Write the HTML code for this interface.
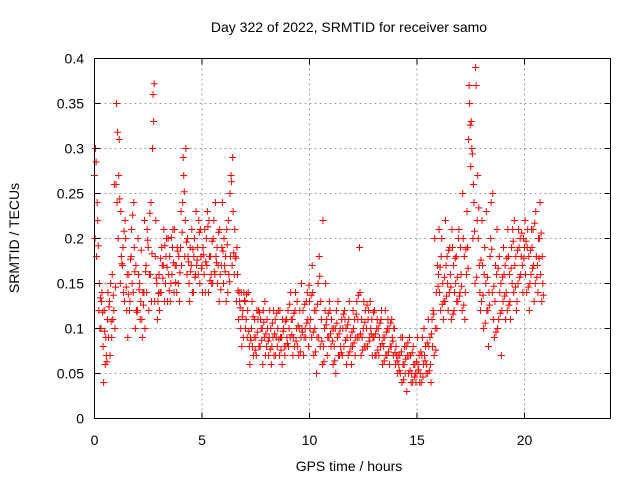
<!DOCTYPE html>
<html><head><meta charset="utf-8"><style>
body{margin:0;background:#fff;}
svg{display:block;font-family:"Liberation Sans",sans-serif;}
</style></head><body>
<svg id="chart" width="640" height="480" viewBox="0 0 640 480">
<rect width="640" height="480" fill="#fff"/>
<g id="grid"></g>
<g id="marks"></g>
<rect x="94.5" y="58.5" width="516" height="360" fill="none" stroke="#000" stroke-width="1"/>
<g id="ticks"></g>
<text x="349" y="32" font-size="14" text-anchor="middle">Day 322 of 2022, SRMTID for receiver samo</text>
<text x="349" y="471" font-size="14" text-anchor="middle">GPS time / hours</text>
<text transform="translate(19,238) rotate(-90)" font-size="14" text-anchor="middle">SRMTID / TECUs</text>
</svg>
<script>
const xTicks=[0,5,10,15,20];
const yTicks=[0,0.05,0.1,0.15,0.2,0.25,0.3,0.35,0.4];
const yTickLabels=["0","0.05","0.1","0.15","0.2","0.25","0.3","0.35","0.4"];
const timeStart=0, timeStep=0.1;
const seriesA=[.27,.18,.12,.10,.08,.06,.11,.13,.09,.12,
.26,.20,.15,.17,.13,.12,.16,.18,.14,.10,
.12,.15,.11,.14,.17,.19,.16,.30,.13,.15,
.16,.14,.17,.15,.13,.18,.16,.14,.17,.15,
.19,.24,.18,.16,.15,.17,.14,.16,.19,.15,
.17,.16,.20,.14,.18,.15,.16,.19,.13,.17,
.15,.18,.14,.25,.17,.16,.13,.11,.10,.12,
.13,.09,.08,.10,.07,.09,.11,.08,.10,.09,
.08,.07,.10,.09,.11,.08,.07,.09,.10,.08,
.12,.09,.11,.08,.10,.07,.09,.12,.10,.14,
.13,.09,.07,.12,.15,.08,.06,.10,.11,.09,
.08,.06,.10,.09,.07,.11,.08,.10,.07,.09,
.08,.11,.13,.09,.07,.10,.12,.08,.09,.11,
.09,.07,.10,.08,.06,.09,.07,.10,.08,.07,
.06,.05,.07,.04,.06,.08,.05,.07,.04,.06,
.05,.07,.04,.06,.08,.05,.09,.11,.07,.14,
.16,.12,.15,.13,.18,.14,.11,.17,.15,.13,
.14,.12,.18,.16,.31,.28,.20,.15,.22,.17,
.13,.10,.15,.12,.18,.14,.09,.16,.11,.15,
.13,.17,.12,.16,.19,.14,.18,.15,.20,.17,
.19,.14,.18,.16,.21,.15,.17,.20,.13];
const seriesB=[.20,.24,.15,.13,.04,.09,.14,.07,.16,.26,
.35,.27,.23,.19,.22,.16,.12,.21,.24,.17,
.20,.11,.09,.22,.14,.12,.24,.36,.18,.11,
.12,.19,.21,.18,.20,.13,.19,.21,.14,.18,
.23,.29,.22,.20,.13,.21,.18,.23,.16,.21,
.14,.21,.17,.22,.16,.20,.24,.15,.21,.19,
.20,.13,.22,.18,.29,.21,.19,.14,.14,.09,
.10,.12,.06,.13,.09,.07,.12,.11,.06,.13,
.11,.09,.06,.12,.07,.10,.12,.06,.08,.11,
.08,.14,.07,.12,.13,.10,.15,.07,.09,.11,
.10,.17,.12,.05,.09,.13,.22,.12,.07,.13,
.11,.10,.05,.13,.10,.07,.12,.06,.11,.08,
.12,.07,.09,.19,.11,.13,.08,.11,.13,.07,
.12,.10,.07,.11,.09,.12,.10,.06,.11,.10,
.08,.07,.05,.09,.08,.03,.07,.04,.08,.05,
.09,.04,.07,.10,.05,.11,.06,.08,.20,.10,
.21,.18,.11,.22,.15,.19,.21,.12,.18,.20,
.19,.25,.11,.23,.37,.33,.26,.39,.27,.14,
.22,.16,.23,.08,.20,.25,.13,.21,.18,.07,
.19,.11,.21,.13,.15,.22,.12,.21,.16,.14,
.22,.19,.12,.21,.17,.23,.14,.24,.18];
const seriesC=[.30,.22,.10,.14,.12,.07,.09,.15,.11,.10,
.24,.31,.18,.14,.20,.09,.13,.15,.19,.12,
.16,.13,.14,.10,.21,.16,.13,.33,.22,.13,
.14,.17,.13,.20,.16,.15,.21,.17,.19,.13,
.17,.27,.30,.18,.19,.14,.20,.17,.22,.18,
.19,.14,.23,.18,.15,.22,.18,.17,.16,.24,
.17,.21,.16,.27,.23,.18,.16,.13,.08,.14,
.11,.14,.09,.08,.11,.12,.08,.10,.12,.07,
.10,.12,.08,.07,.09,.12,.09,.11,.07,.09,
.10,.11,.09,.14,.08,.12,.10,.09,.13,.08,
.11,.14,.10,.09,.18,.11,.08,.15,.09,.12,
.10,.08,.12,.07,.08,.10,.11,.09,.13,.06,
.10,.09,.11,.14,.09,.08,.10,.12,.10,.09,
.07,.11,.09,.12,.08,.07,.11,.08,.09,.10,
.07,.06,.09,.06,.05,.07,.09,.05,.06,.04,
.06,.05,.09,.07,.06,.08,.04,.12,.10,.17,
.14,.20,.13,.17,.12,.16,.19,.14,.13,.21,
.16,.20,.14,.19,.35,.30,.24,.37,.20,.12,
.17,.19,.12,.14,.24,.11,.17,.10,.14,.12,
.16,.14,.18,.11,.21,.17,.13,.19,.18,.20,
.16,.21,.15,.19,.13,.18,.20,.16,.15];
const seriesD=[.285,.192,.134,.118,.097,.063,.124,.108,.137,.146,
.318,.244,.172,.208,.146,.138,.177,.226,.163,.118,
.143,.187,.126,.163,.198,.228,.183,.372,.156,.139,
.178,.156,.192,.168,.142,.201,.173,.151,.186,.162,
.207,.252,.196,.174,.163,.188,.157,.176,.207,.167,
.182,.174,.213,.153,.197,.163,.173,.207,.143,.186,
.163,.193,.152,.263,.184,.178,.142,.123,.113,.131,
.138,.097,.087,.113,.076,.096,.118,.087,.107,.094,
.086,.077,.106,.094,.117,.088,.076,.097,.108,.083,
.127,.093,.117,.086,.103,.074,.096,.127,.106,.148,
.137,.096,.074,.127,.158,.086,.063,.104,.117,.094,
.086,.064,.106,.094,.073,.116,.087,.104,.074,.096,
.084,.116,.137,.094,.076,.107,.126,.086,.094,.118,
.094,.076,.106,.083,.064,.096,.074,.106,.086,.073,
.064,.053,.074,.043,.066,.084,.053,.073,.046,.063,
.054,.074,.046,.064,.084,.053,.094,.116,.076,.147,
.168,.127,.157,.136,.187,.146,.116,.178,.157,.136,
.147,.126,.188,.167,.326,.294,.208,.157,.234,.176,
.137,.106,.157,.126,.188,.147,.096,.167,.117,.157,
.136,.178,.126,.167,.197,.146,.187,.157,.206,.178,
.197,.146,.187,.167,.217,.157,.178,.206,.137];
const NS="http://www.w3.org/2000/svg";
const X0=94.5,X1=610.5,Y0=418.5,Y1=58.5;
function xs(h){return X0+(h-0)/(24-0)*(X1-X0);}
function ys(v){return Y0-(v-0)/(0.4-0)*(Y0-Y1);}
function mk(tag,at,parent){const e=document.createElementNS(NS,tag);for(const k in at)e.setAttribute(k,at[k]);parent.appendChild(e);return e;}
const grid=document.getElementById('grid'),ticks=document.getElementById('ticks'),marks=document.getElementById('marks');
xTicks.forEach(t=>{const x=xs(t);
 if(t>0){const g=mk('line',{x1:x,x2:x,y1:Y1,y2:Y0,stroke:'#a0a0a0','stroke-dasharray':'2,3'},grid);
 
 }
 mk('line',{x1:x,x2:x,y1:Y0,y2:Y0-6,stroke:'#000'},ticks);mk('line',{x1:x,x2:x,y1:Y1,y2:Y1+6,stroke:'#000'},ticks);
 const l=mk('text',{x:x,y:445,'font-size':14,'text-anchor':'middle'},ticks);l.textContent=t;
 
 });
yTicks.forEach((t,i)=>{const y=ys(t);
 if(t>0&&t<0.4){const g=mk('line',{x1:X0,x2:X1,y1:y,y2:y,stroke:'#a0a0a0','stroke-dasharray':'2,3'},grid);
 
 }
 mk('line',{x1:X0,x2:X0+6,y1:y,y2:y,stroke:'#000'},ticks);mk('line',{x1:X1,x2:X1-6,y1:y,y2:y,stroke:'#000'},ticks);
 const l=mk('text',{x:84,y:y+5,'font-size':14,'text-anchor':'end'},ticks);l.textContent=yTickLabels[i];
 
 });
function plot(arr,off,color){arr.forEach((v,i)=>{const x=xs(timeStart+i*timeStep+off),y=ys(v);
 const p=mk('path',{d:`M${x-3.5},${y}H${x+3.5}M${x},${y-3.5}V${y+3.5}`,stroke:color,'stroke-width':1,fill:'none'},marks);
 
 });}
plot(seriesA,0,'#ff0000');plot(seriesB,0.025,'#ff0000');plot(seriesC,0.05,'#ff0000');plot(seriesD,0.075,'#ff0000');
</script>
</body></html>
